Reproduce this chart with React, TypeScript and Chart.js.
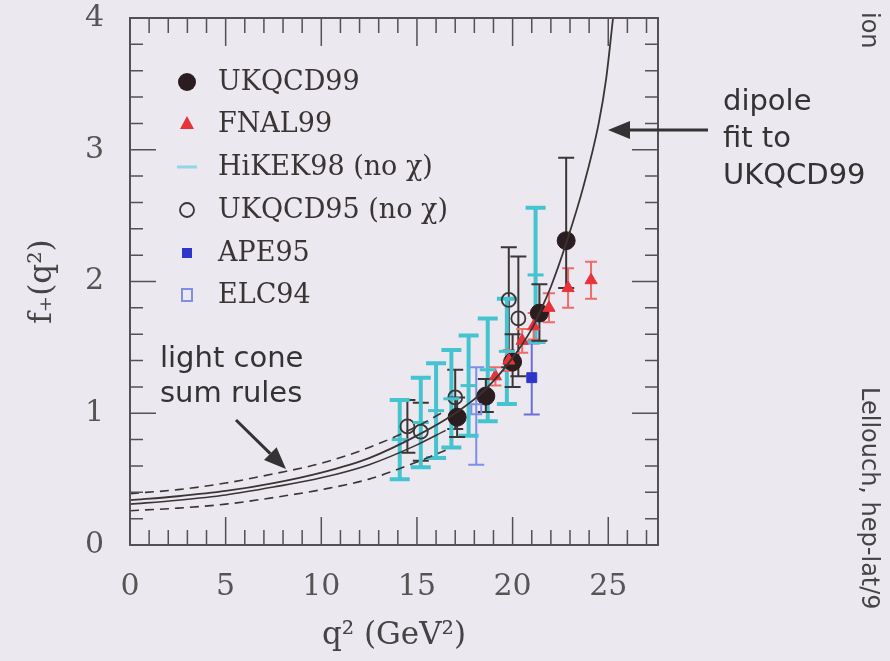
import React, { useEffect, useRef } from "react";
import { Chart, registerables } from "chart.js";

Chart.register(...registerables);

// ---------- axis ticks ----------
const xTickValues = [0, 5, 10, 15, 20, 25];
const yTickValues = [0, 1, 2, 3, 4];

// ---------- UKQCD99 (filled black circles) ----------
const ukqcd99Q2 = [17.1, 18.6, 20.0, 21.4, 22.8];
const ukqcd99F = [0.97, 1.13, 1.39, 1.76, 2.31];
const ukqcd99Lo = [0.82, 1.01, 1.2, 1.55, 1.95];
const ukqcd99Hi = [1.12, 1.26, 1.6, 1.98, 2.94];

// ---------- FNAL99 (red triangles) ----------
const fnal99Q2 = [19.1, 19.8, 20.5, 21.1, 21.9, 22.9, 24.1];
const fnal99F = [1.28, 1.4, 1.55, 1.66, 1.8, 1.95, 2.01];
const fnal99Lo = [1.21, 1.32, 1.46, 1.56, 1.69, 1.8, 1.87];
const fnal99Hi = [1.35, 1.48, 1.64, 1.76, 1.91, 2.1, 2.15];

// ---------- HiKEK98 (cyan, no chi) ----------
const hikek98Q2 = [14.1, 15.2, 16.0, 16.8, 17.7, 18.7, 19.7, 21.2];
const hikek98F = [0.8, 0.93, 1.02, 1.11, 1.21, 1.33, 1.47, 2.05];
const hikek98Lo = [0.5, 0.59, 0.66, 0.74, 0.83, 0.94, 1.07, 1.54];
const hikek98Hi = [1.1, 1.27, 1.38, 1.48, 1.59, 1.72, 1.87, 2.56];

// ---------- UKQCD95 (open circles, no chi) ----------
const ukqcd95Q2 = [14.5, 15.2, 17.0, 19.8, 20.3];
const ukqcd95F = [0.9, 0.86, 1.12, 1.86, 1.72];
const ukqcd95Lo = [0.7, 0.64, 0.88, 1.35, 1.28];
const ukqcd95Hi = [1.1, 1.08, 1.33, 2.26, 2.19];

// ---------- APE95 (filled blue square) ----------
const ape95Q2 = [21.0];
const ape95F = [1.27];
const ape95Lo = [0.99];
const ape95Hi = [1.53];

// ---------- ELC94 (open blue square) ----------
const elc94Q2 = [18.1];
const elc94F = [1.03];
const elc94Lo = [0.61];
const elc94Hi = [1.35];

// ---------- dipole fit to UKQCD99 (solid) ----------
const dipoleQ2 = [0, 2.5, 5, 7.5, 10, 12.5, 15, 17, 18.5, 20, 21, 21.4, 22, 22.8, 23.7, 24.5, 24.9, 25.25];
const dipoleF = [0.34, 0.37, 0.41, 0.47, 0.55, 0.66, 0.83, 1.0, 1.17, 1.42, 1.64, 1.76, 1.96, 2.29, 2.72, 3.2, 3.55, 4.0];

// ---------- light cone sum rules (central solid, band dashed) ----------
const lcsrQ2 = [0, 2.5, 5, 7.5, 10, 12.5, 15, 16.5];
const lcsrUpper = [0.39, 0.42, 0.47, 0.54, 0.62, 0.74, 0.9, 1.02];
const lcsrCentral = [0.31, 0.34, 0.38, 0.44, 0.51, 0.61, 0.76, 0.87];
const lcsrLower = [0.26, 0.28, 0.31, 0.36, 0.42, 0.5, 0.63, 0.72];

// ---------- legend ----------
const legendLabels = ["UKQCD99", "FNAL99", "HiKEK98 (no \u03c7)", "UKQCD95 (no \u03c7)", "APE95", "ELC94"];

// ---------- styles ----------
const BG = "#ebe8ef";
const INK = "#3a3434";
const FRAME = "#555055";
const BLACK = "#2b1d1f";
const RED = "#e8333a";
const CYAN = "#45c3cf";
const BLUE = "#2f35c8";
const LIGHTBLUE = "#7f8fe6";
const SERIF = "'DejaVu Serif', serif";
const SANS = "'DejaVu Sans', sans-serif";

const pts = (xs: number[], ys: number[]) => xs.map((x, i) => ({ x, y: ys[i] }));

type ErrSeries = { xs: number[]; lo: number[]; hi: number[]; color: string; width: number; cap: number };

const errSeries: ErrSeries[] = [
  { xs: ukqcd95Q2, lo: ukqcd95Lo, hi: ukqcd95Hi, color: "#3b3536", width: 2, cap: 8 },
  { xs: elc94Q2, lo: elc94Lo, hi: elc94Hi, color: LIGHTBLUE, width: 2, cap: 8 },
  { xs: ape95Q2, lo: ape95Lo, hi: ape95Hi, color: "#6a70d8", width: 2, cap: 8 },
  { xs: hikek98Q2, lo: hikek98Lo, hi: hikek98Hi, color: CYAN, width: 4, cap: 10 },
  { xs: fnal99Q2, lo: fnal99Lo, hi: fnal99Hi, color: "#f06a6a", width: 2, cap: 6 },
  { xs: ukqcd99Q2, lo: ukqcd99Lo, hi: ukqcd99Hi, color: "#3b3536", width: 2, cap: 8 },
];

const bgPlugin = {
  id: "bgFill",
  beforeDraw(chart: any) {
    const { ctx, width, height } = chart;
    ctx.save();
    ctx.fillStyle = BG;
    ctx.fillRect(0, 0, width, height);
    ctx.restore();
  },
};

const errorBarPlugin = {
  id: "errorBars",
  beforeDatasetsDraw(chart: any) {
    const { ctx, scales } = chart;
    const xs = scales.x;
    const ys = scales.y;
    ctx.save();
    for (const s of errSeries) {
      ctx.strokeStyle = s.color;
      ctx.lineWidth = s.width;
      s.xs.forEach((q, i) => {
        const px = xs.getPixelForValue(q);
        const pLo = ys.getPixelForValue(s.lo[i]);
        const pHi = ys.getPixelForValue(s.hi[i]);
        ctx.beginPath();
        ctx.moveTo(px, pLo);
        ctx.lineTo(px, pHi);
        ctx.moveTo(px - s.cap, pLo);
        ctx.lineTo(px + s.cap, pLo);
        ctx.moveTo(px - s.cap, pHi);
        ctx.lineTo(px + s.cap, pHi);
        ctx.stroke();
      });
    }
    ctx.restore();
  },
};

function arrow(ctx: CanvasRenderingContext2D, x0: number, y0: number, x1: number, y1: number, head: number, half: number) {
  const ang = Math.atan2(y1 - y0, x1 - x0);
  const bx = x1 - head * Math.cos(ang);
  const by = y1 - head * Math.sin(ang);
  ctx.beginPath();
  ctx.moveTo(x0, y0);
  ctx.lineTo(bx, by);
  ctx.stroke();
  ctx.beginPath();
  ctx.moveTo(x1, y1);
  ctx.lineTo(bx + half * Math.sin(ang), by - half * Math.cos(ang));
  ctx.lineTo(bx - half * Math.sin(ang), by + half * Math.cos(ang));
  ctx.closePath();
  ctx.fill();
}

const framePlugin = {
  id: "frameTicks",
  afterDraw(chart: any) {
    const { ctx, chartArea, scales } = chart;
    const { left, right, top, bottom } = chartArea;
    const xs = scales.x;
    const ys = scales.y;
    ctx.save();
    ctx.strokeStyle = FRAME;
    ctx.lineWidth = 2;
    ctx.strokeRect(left, top, right - left, bottom - top);
    ctx.lineWidth = 1.5;
    ctx.beginPath();
    for (let v = 0; v <= 27; v += 1) {
      const px = xs.getPixelForValue(v);
      const len = v % 5 === 0 ? 28 : 15;
      ctx.moveTo(px, bottom);
      ctx.lineTo(px, bottom - len);
      ctx.moveTo(px, top);
      ctx.lineTo(px, top + len);
    }
    for (let k = 0; k <= 20; k += 1) {
      const py = ys.getPixelForValue(k * 0.2);
      const len = k % 5 === 0 ? 26 : 13;
      ctx.moveTo(left, py);
      ctx.lineTo(left + len, py);
      ctx.moveTo(right, py);
      ctx.lineTo(right - len, py);
    }
    ctx.stroke();

    // legend
    const lx = 187;
    const tx = 218;
    const rows = [82, 124, 167, 210, 253, 295];
    ctx.font = `27px ${SERIF}`;
    ctx.fillStyle = INK;
    ctx.textBaseline = "middle";
    ctx.textAlign = "left";
    legendLabels.forEach((lab, i) => ctx.fillText(lab, tx, rows[i] + 1));
    // markers
    ctx.fillStyle = BLACK;
    ctx.beginPath();
    ctx.arc(lx, rows[0], 9, 0, Math.PI * 2);
    ctx.fill();
    ctx.fillStyle = RED;
    ctx.beginPath();
    ctx.moveTo(lx, rows[1] - 8);
    ctx.lineTo(lx + 7, rows[1] + 5);
    ctx.lineTo(lx - 7, rows[1] + 5);
    ctx.closePath();
    ctx.fill();
    ctx.strokeStyle = "#8fd6e6";
    ctx.lineWidth = 3;
    ctx.beginPath();
    ctx.moveTo(lx - 10, rows[2]);
    ctx.lineTo(lx + 10, rows[2]);
    ctx.stroke();
    ctx.strokeStyle = INK;
    ctx.lineWidth = 1.8;
    ctx.beginPath();
    ctx.arc(lx, rows[3], 7, 0, Math.PI * 2);
    ctx.stroke();
    ctx.fillStyle = BLUE;
    ctx.fillRect(lx - 5, rows[4] - 5, 10, 10);
    ctx.strokeStyle = LIGHTBLUE;
    ctx.lineWidth = 2;
    ctx.strokeRect(lx - 5, rows[5] - 6, 10, 12);

    // annotations
    ctx.fillStyle = "#333";
    ctx.font = `29px ${SANS}`;
    ctx.textBaseline = "alphabetic";
    ctx.fillText("light cone", 160, 367);
    ctx.fillText("sum rules", 160, 402);
    ctx.fillText("dipole", 723, 110);
    ctx.fillText("fit to", 723, 147);
    ctx.fillText("UKQCD99", 723, 184);
    ctx.strokeStyle = "#333";
    ctx.fillStyle = "#333";
    ctx.lineWidth = 3;
    arrow(ctx, 236, 420, 286, 469, 22, 9);
    arrow(ctx, 708, 130, 608, 130, 22, 9);

    // side text (clipped by page edge)
    ctx.font = `24px ${SANS}`;
    ctx.fillStyle = "#444";
    ctx.save();
    ctx.translate(862, 387);
    ctx.rotate(Math.PI / 2);
    ctx.fillText("Lellouch, hep-lat/9", 0, 0);
    ctx.restore();
    ctx.save();
    ctx.translate(862, 12);
    ctx.rotate(Math.PI / 2);
    ctx.fillText("ion", 0, 0);
    ctx.restore();
    ctx.restore();
  },
};

export default function App() {
  const ref = useRef<HTMLCanvasElement>(null);
  useEffect(() => {
    const canvas = ref.current;
    if (!canvas) return;
    const lineDs = (label: string, xs: number[], ys: number[], dash: number[], width: number) => ({
      type: "line" as const,
      label,
      data: pts(xs, ys),
      showLine: true,
      borderColor: "#3a3434",
      borderWidth: width,
      borderDash: dash,
      pointRadius: 0,
      fill: false,
      cubicInterpolationMode: "monotone" as const,
    });
    const chart = new Chart(canvas, {
      type: "scatter",
      data: {
        datasets: [
          lineDs("LCSR upper", lcsrQ2, lcsrUpper, [9, 6], 1.6),
          lineDs("LCSR", lcsrQ2, lcsrCentral, [], 1.6),
          lineDs("LCSR lower", lcsrQ2, lcsrLower, [9, 6], 1.6),
          lineDs("dipole fit", dipoleQ2, dipoleF, [], 1.8),
          {
            label: "HiKEK98",
            data: pts(hikek98Q2, hikek98F),
            pointStyle: "line",
            pointRadius: 8,
            borderColor: CYAN,
            borderWidth: 3,
            backgroundColor: CYAN,
          },
          {
            label: "UKQCD95",
            data: pts(ukqcd95Q2, ukqcd95F),
            pointStyle: "circle",
            pointRadius: 7,
            borderColor: "#3b3536",
            borderWidth: 1.8,
            backgroundColor: "rgba(0,0,0,0)",
          },
          {
            label: "ELC94",
            data: pts(elc94Q2, elc94F),
            pointStyle: "rect",
            pointRadius: 7,
            borderColor: LIGHTBLUE,
            borderWidth: 2,
            backgroundColor: "rgba(0,0,0,0)",
          },
          {
            label: "APE95",
            data: pts(ape95Q2, ape95F),
            pointStyle: "rect",
            pointRadius: 7,
            borderColor: BLUE,
            borderWidth: 1,
            backgroundColor: BLUE,
          },
          {
            label: "FNAL99",
            data: pts(fnal99Q2, fnal99F),
            pointStyle: "triangle",
            pointRadius: 7,
            borderColor: RED,
            borderWidth: 1,
            backgroundColor: RED,
          },
          {
            label: "UKQCD99",
            data: pts(ukqcd99Q2, ukqcd99F),
            pointStyle: "circle",
            pointRadius: 9,
            borderColor: BLACK,
            borderWidth: 1,
            backgroundColor: BLACK,
          },
        ],
      },
      options: {
        animation: false,
        responsive: true,
        maintainAspectRatio: false,
        layout: { padding: { top: 18, right: 232, left: 0, bottom: 0 } },
        plugins: { legend: { display: false }, tooltip: { enabled: false } },
        scales: {
          x: {
            type: "linear",
            min: 0,
            max: 27.6,
            afterBuildTicks: (s: any) => {
              s.ticks = xTickValues.map((v) => ({ value: v }));
            },
            afterFit: (s: any) => {
              s.height = 116;
              s.paddingLeft = 0;
              s.paddingRight = 0;
            },
            grid: { display: false, drawTicks: false },
            border: { display: false },
            ticks: {
              autoSkip: false,
              maxRotation: 0,
              padding: 24,
              color: "#555",
              font: { family: SERIF, size: 30 },
            },
            title: {
              display: true,
              text: "q\u00b2 (GeV\u00b2)",
              color: "#444",
              font: { family: SERIF, size: 31 },
              padding: { top: 0, bottom: 6 },
            },
          },
          y: {
            type: "linear",
            min: 0,
            max: 4,
            afterBuildTicks: (s: any) => {
              s.ticks = yTickValues.map((v) => ({ value: v }));
            },
            afterFit: (s: any) => {
              s.width = 130;
              s.paddingTop = 0;
              s.paddingBottom = 0;
            },
            grid: { display: false, drawTicks: false },
            border: { display: false },
            ticks: {
              autoSkip: false,
              padding: 26,
              color: "#555",
              font: { family: SERIF, size: 30 },
            },
            title: {
              display: true,
              text: "f\u208a(q\u00b2)",
              color: "#444",
              font: { family: SERIF, size: 31 },
              padding: { top: 24, bottom: 0 },
            },
          },
        },
      },
      plugins: [bgPlugin, errorBarPlugin, framePlugin],
    } as any);
    return () => chart.destroy();
  }, []);
  return (
    <div style={{ position: "fixed", left: 0, top: 0, width: 890, height: 661, background: BG }}>
      <canvas ref={ref} />
    </div>
  );
}
